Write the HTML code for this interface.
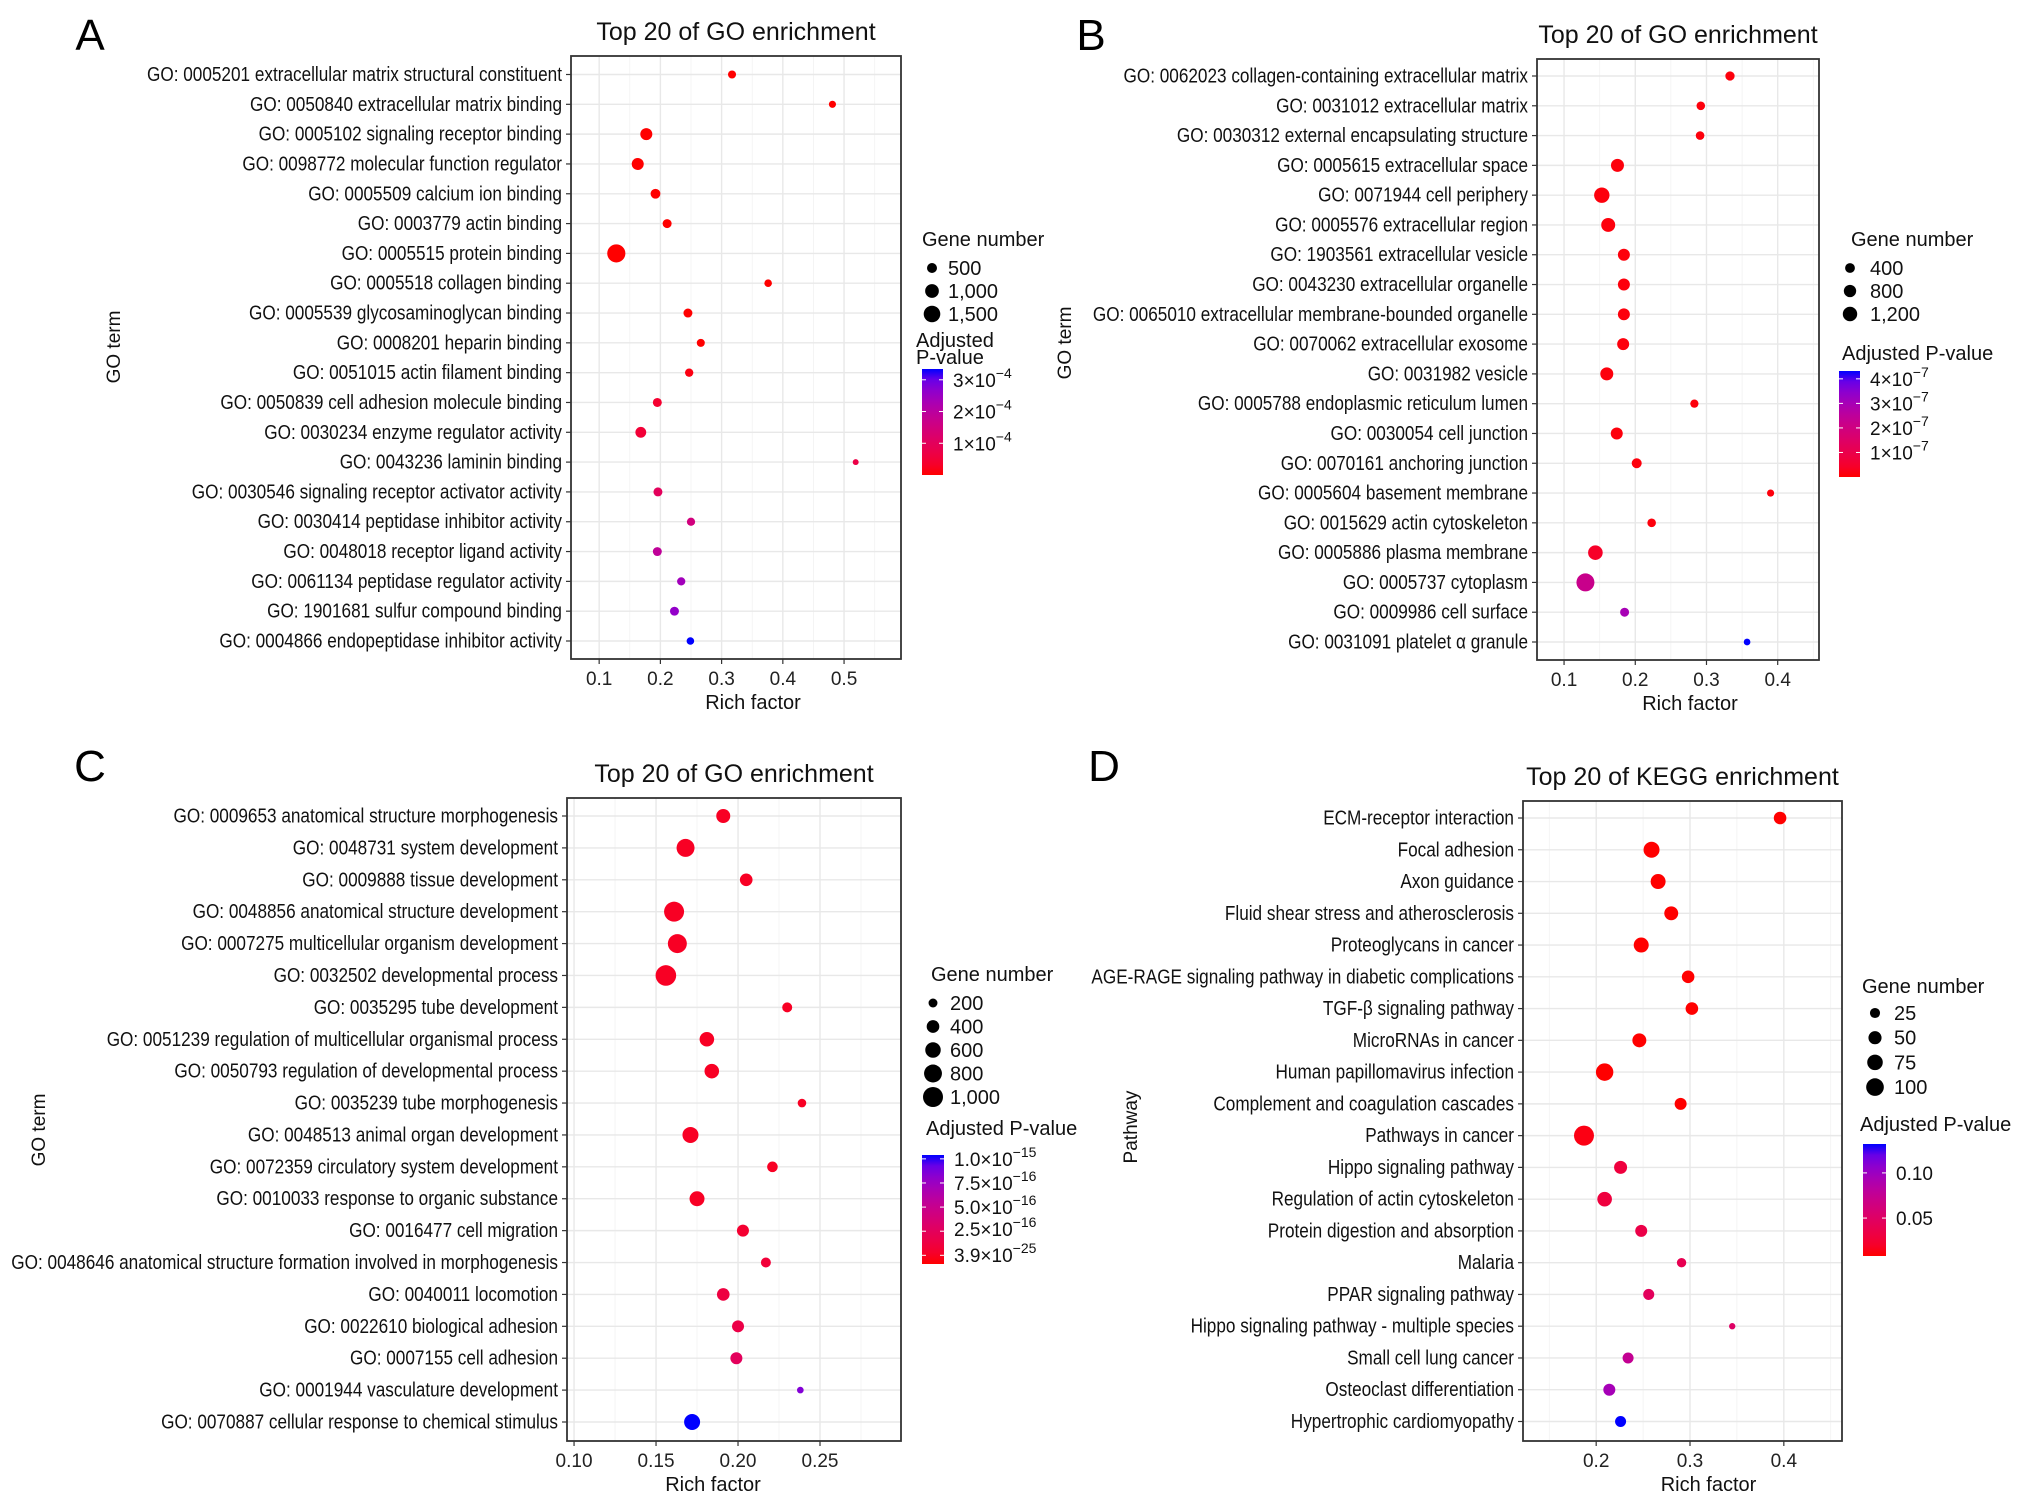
<!DOCTYPE html>
<html><head><meta charset="utf-8"><style>
html,body{margin:0;padding:0;background:#fff}
svg{display:block;font-family:"Liberation Sans",Arial,sans-serif}
</style></head><body>
<svg id="fig" width="2032" height="1505" viewBox="0 0 2032 1505" xmlns="http://www.w3.org/2000/svg"></svg>
<script>
// ---------- DATA ----------
const termsA = ["GO: 0005201 extracellular matrix structural constituent","GO: 0050840 extracellular matrix binding","GO: 0005102 signaling receptor binding","GO: 0098772 molecular function regulator","GO: 0005509 calcium ion binding","GO: 0003779 actin binding","GO: 0005515 protein binding","GO: 0005518 collagen binding","GO: 0005539 glycosaminoglycan binding","GO: 0008201 heparin binding","GO: 0051015 actin filament binding","GO: 0050839 cell adhesion molecule binding","GO: 0030234 enzyme regulator activity","GO: 0043236 laminin binding","GO: 0030546 signaling receptor activator activity","GO: 0030414 peptidase inhibitor activity","GO: 0048018 receptor ligand activity","GO: 0061134 peptidase regulator activity","GO: 1901681 sulfur compound binding","GO: 0004866 endopeptidase inhibitor activity"];
const richA = [0.317,0.481,0.177,0.163,0.192,0.211,0.128,0.376,0.245,0.266,0.247,0.195,0.168,0.519,0.196,0.250,0.195,0.234,0.223,0.249];
const countA = [300,220,750,750,480,390,1800,260,390,300,330,390,600,130,390,320,390,320,390,260];
const padjA = [0,0,0,0,0,0,0,0,0,0,0.1e-4,0.4e-4,0.5e-4,0.7e-4,1.0e-4,1.5e-4,1.9e-4,2.4e-4,2.6e-4,3.34e-4];
const xTicksA = [0.1,0.2,0.3,0.4,0.5];
const sizeLegA = [500,1000,1500];
const sizeLabA = ["500","1,000","1,500"];
const colTickA = [3e-4,2e-4,1e-4];
const colLabA = [["3×10","−4"],["2×10","−4"],["1×10","−4"]];

const termsB = ["GO: 0062023 collagen-containing extracellular matrix","GO: 0031012 extracellular matrix","GO: 0030312 external encapsulating structure","GO: 0005615 extracellular space","GO: 0071944 cell periphery","GO: 0005576 extracellular region","GO: 1903561 extracellular vesicle","GO: 0043230 extracellular organelle","GO: 0065010 extracellular membrane-bounded organelle","GO: 0070062 extracellular exosome","GO: 0031982 vesicle","GO: 0005788 endoplasmic reticulum lumen","GO: 0030054 cell junction","GO: 0070161 anchoring junction","GO: 0005604 basement membrane","GO: 0015629 actin cytoskeleton","GO: 0005886 plasma membrane","GO: 0005737 cytoplasm","GO: 0009986 cell surface","GO: 0031091 platelet α granule"];
const richB = [0.333,0.292,0.291,0.175,0.153,0.162,0.184,0.184,0.184,0.183,0.160,0.283,0.174,0.202,0.390,0.223,0.144,0.130,0.185,0.357];
const countB = [330,240,240,920,1410,1110,740,740,740,740,920,200,740,430,80,240,1240,2030,290,30];
const padjB = [0.08e-7,0.08e-7,0.08e-7,0.08e-7,0.08e-7,0.08e-7,0.08e-7,0.08e-7,0.08e-7,0.08e-7,0.08e-7,0.08e-7,0.08e-7,0.08e-7,0.08e-7,0.08e-7,0.4e-7,2.2e-7,3.0e-7,4.32e-7];
const xTicksB = [0.1,0.2,0.3,0.4];
const sizeLegB = [400,800,1200];
const sizeLabB = ["400","800","1,200"];
const colTickB = [4e-7,3e-7,2e-7,1e-7];
const colLabB = [["4×10","−7"],["3×10","−7"],["2×10","−7"],["1×10","−7"]];

const termsC = ["GO: 0009653 anatomical structure morphogenesis","GO: 0048731 system development","GO: 0009888 tissue development","GO: 0048856 anatomical structure development","GO: 0007275 multicellular organism development","GO: 0032502 developmental process","GO: 0035295 tube development","GO: 0051239 regulation of multicellular organismal process","GO: 0050793 regulation of developmental process","GO: 0035239 tube morphogenesis","GO: 0048513 animal organ development","GO: 0072359 circulatory system development","GO: 0010033 response to organic substance","GO: 0016477 cell migration","GO: 0048646 anatomical structure formation involved in morphogenesis","GO: 0040011 locomotion","GO: 0022610 biological adhesion","GO: 0007155 cell adhesion","GO: 0001944 vasculature development","GO: 0070887 cellular response to chemical stimulus"];
const richC = [0.191,0.168,0.205,0.161,0.163,0.156,0.230,0.181,0.184,0.239,0.171,0.221,0.175,0.203,0.217,0.191,0.200,0.199,0.238,0.172];
const countC = [490,810,400,1000,900,1060,250,530,530,185,640,280,560,360,250,400,360,360,110,640];
const padjC = [0,0,0,0,0,0,0,0,0,0,0,0,0,0.05e-15,0.08e-15,0.12e-15,0.15e-15,0.25e-15,0.85e-15,1.04e-15];
const xTicksC = [0.10,0.15,0.20,0.25];
const sizeLegC = [200,400,600,800,1000];
const sizeLabC = ["200","400","600","800","1,000"];
const colTickC = [1.0e-15,7.5e-16,5.0e-16,2.5e-16,3.9e-25];
const colLabC = [["1.0×10","−15"],["7.5×10","−16"],["5.0×10","−16"],["2.5×10","−16"],["3.9×10","−25"]];

const termsD = ["ECM-receptor interaction","Focal adhesion","Axon guidance","Fluid shear stress and atherosclerosis","Proteoglycans in cancer","AGE-RAGE signaling pathway in diabetic complications","TGF-β signaling pathway","MicroRNAs in cancer","Human papillomavirus infection","Complement and coagulation cascades","Pathways in cancer","Hippo signaling pathway","Regulation of actin cytoskeleton","Protein digestion and absorption","Malaria","PPAR signaling pathway","Hippo signaling pathway - multiple species","Small cell lung cancer","Osteoclast differentiation","Hypertrophic cardiomyopathy"];
const richD = [0.396,0.259,0.266,0.280,0.248,0.298,0.302,0.246,0.209,0.290,0.187,0.226,0.209,0.248,0.291,0.256,0.345,0.234,0.214,0.226];
const countD = [45,80,69,58,69,45,45,58,97,40,131,49,65,40,20,32,3,32,40,32];
const padjD = [0.008,0.008,0.008,0.008,0.008,0.008,0.008,0.008,0.008,0.008,0.012,0.03,0.03,0.035,0.04,0.045,0.05,0.075,0.095,0.132];
const xTicksD = [0.2,0.3,0.4];
const sizeLegD = [25,50,75,100];
const sizeLabD = ["25","50","75","100"];
const colTickD = [0.10,0.05];
const colLabD = [["0.10",""],["0.05",""]];

// ---------- RENDER ----------
const NS = "http://www.w3.org/2000/svg";
const svg = document.getElementById('fig');
function mk(tag, attrs, parent){ const e=document.createElementNS(NS,tag); for(const k in attrs) e.setAttribute(k,attrs[k]); (parent||svg).appendChild(e); return e; }

function s2l(c){c/=255;return c<=0.04045?c/12.92:Math.pow((c+0.055)/1.055,2.4);}
function l2s(c){c=c<=0.0031308?12.92*c:1.055*Math.pow(c,1/2.4)-0.055;return Math.max(0,Math.min(255,Math.round(c*255)));}
function toLab(r,g,b){r=s2l(r);g=s2l(g);b=s2l(b);
 let x=(r*0.4124+g*0.3576+b*0.1805)/0.95047,y=r*0.2126+g*0.7152+b*0.0722,z=(r*0.0193+g*0.1192+b*0.9505)/1.08883;
 const f=t=>t>0.008856?Math.cbrt(t):7.787*t+16/116;x=f(x);y=f(y);z=f(z);return [116*y-16,500*(x-y),200*(y-z)];}
function fromLab(L,a,b){let y=(L+16)/116,x=a/500+y,z=y-b/200;const fi=t=>t*t*t>0.008856?t*t*t:(t-16/116)/7.787;
 x=fi(x)*0.95047;y=fi(y);z=fi(z)*1.08883;
 const r=x*3.2406+y*-1.5372+z*-0.4986,g=x*-0.9689+y*1.8758+z*0.0415,bb=x*0.0557+y*-0.2040+z*1.0570;
 return `rgb(${l2s(r)},${l2s(g)},${l2s(bb)})`;}
const LR=toLab(255,0,0), LB=toLab(0,0,255);
function colorAt(t){t=Math.max(0,Math.min(1,t));return fromLab(LR[0]+(LB[0]-LR[0])*t,LR[1]+(LB[1]-LR[1])*t,LR[2]+(LB[2]-LR[2])*t);}

let labelRatio = null;

function panel(cfg){
  const g = mk('g',{});
  
  
  const {L,R,T,B,y0,y1,d0,d1} = cfg;
  const xs = v => L + (v-d0)/(d1-d0)*(R-L);
  const n = cfg.terms.length;
  const ys = i => y0 + i*(y1-y0)/(n-1);
  const rs = c => Math.sqrt(cfg.c0 + cfg.c1*c);
  const cs = p => colorAt((p-cfg.p0)/(cfg.p1-cfg.p0));

  const lt = mk('text',{x:cfg.lx,y:cfg.ly,'text-anchor':'middle','font-size':44,fill:'#000'},g);
  lt.textContent = cfg.letter;
  
  
  const tt = mk('text',{x:(L+R)/2,y:T-16,'text-anchor':'middle','font-size':25,fill:'#111'},g);
  tt.textContent = cfg.title;
  
  
  mk('rect',{x:L,y:T,width:R-L,height:B-T,fill:'#fff'},g);
  const step = cfg.ticks[1]-cfg.ticks[0];
  for(let v=cfg.ticks[0]-step/2; v<d1; v+=step){ if(v>d0){ const gl=mk('line',{x1:xs(v),x2:xs(v),y1:T,y2:B,stroke:'#f2f2f2','stroke-width':0.8},g);
    
     } }
  cfg.ticks.forEach(v=>{ const gl=mk('line',{x1:xs(v),x2:xs(v),y1:T,y2:B,stroke:'#e8e8e8','stroke-width':1.4},g);
    
     });
  cfg.terms.forEach((t,i)=>{ const gl=mk('line',{x1:L,x2:R,y1:ys(i),y2:ys(i),stroke:'#e8e8e8','stroke-width':1.4},g);
    
     });
  cfg.terms.forEach((t,i)=>{
    const c = mk('circle',{cx:xs(cfg.rich[i]),cy:ys(i),r:rs(cfg.count[i]),fill:cs(cfg.padj[i])},g);
    
    
  });
  const bd = mk('rect',{x:L,y:T,width:R-L,height:B-T,fill:'none',stroke:'#333','stroke-width':1.8},g);
  
  
  cfg.terms.forEach((t,i)=>{
    mk('line',{x1:L-5,x2:L,y1:ys(i),y2:ys(i),stroke:'#333','stroke-width':1.2},g);
    const tx = mk('text',{x:L-9,y:ys(i)+6.5,'text-anchor':'end','font-size':20,fill:'#111'},g);
    tx.textContent = t;
    
    
    const len = tx.getComputedTextLength();
    if(labelRatio===null) labelRatio = 415/len;
    tx.setAttribute('textLength', (len*labelRatio).toFixed(1));
    tx.setAttribute('lengthAdjust','spacingAndGlyphs');
  });
  cfg.ticks.forEach((v,k)=>{
    mk('line',{x1:xs(v),x2:xs(v),y1:B,y2:B+5,stroke:'#333','stroke-width':1.2},g);
    const tx = mk('text',{x:xs(v),y:B+26,'text-anchor':'middle','font-size':19,fill:'#222'},g);
    tx.textContent = cfg.tickLab[k];
    
    
  });
  const xt = mk('text',{x:(L+R)/2+cfg.xtOff,y:B+50,'text-anchor':'middle','font-size':20,fill:'#111'},g);
  xt.textContent = 'Rich factor';
  
  
  const yt = mk('text',{x:0,y:0,'text-anchor':'middle','font-size':19,fill:'#111',transform:`translate(${cfg.ytx},${cfg.yty}) rotate(-90)`},g);
  yt.textContent = cfg.ytitle;
  
  

  const sl = mk('g',{},g);
  
  
  const sh = mk('text',{x:cfg.gnx,y:cfg.gny+7,'font-size':20,fill:'#111'},sl);
  sh.textContent = 'Gene number';
  cfg.sizeLeg.forEach((v,k)=>{
    const yy = cfg.sy0 + k*cfg.sdy;
    const c = mk('circle',{cx:cfg.scx,cy:yy,r:rs(v),fill:'#000'},sl);
    
    
    const tx = mk('text',{x:cfg.slx,y:yy+7,'font-size':20,fill:'#111'},sl);
    tx.textContent = cfg.sizeLab[k];
  });
  const cl = mk('g',{},g);
  
  
  cfg.ctitle.forEach((s,k)=>{ const tx=mk('text',{x:cfg.ctx,y:cfg.cty+7+k*17,'font-size':20,fill:'#111'},cl); tx.textContent=s; });
  const gid = 'grad'+cfg.id;
  const defs = mk('defs',{},cl);
  const lg = mk('linearGradient',{id:gid,x1:0,y1:1,x2:0,y2:0},defs);
  for(let s=0;s<=10;s++){ mk('stop',{offset:s/10,'stop-color':colorAt(s/10)},lg); }
  const cb = mk('rect',{x:cfg.cbx0,y:cfg.cby0,width:cfg.cbx1-cfg.cbx0,height:cfg.cby1-cfg.cby0,fill:`url(#${gid})`},cl);
  
  
  const cy = p => cfg.cby1 - (p-cfg.p0)/(cfg.p1-cfg.p0)*(cfg.cby1-cfg.cby0);
  cfg.colTick.forEach((v,k)=>{
    const yy = cy(v);
    if(yy>cfg.cby0 && yy<cfg.cby1){
      mk('line',{x1:cfg.cbx0,x2:cfg.cbx0+4,y1:yy,y2:yy,stroke:'#fff','stroke-width':1},cl);
      mk('line',{x1:cfg.cbx1-4,x2:cfg.cbx1,y1:yy,y2:yy,stroke:'#fff','stroke-width':1},cl);
    }
    const ly = cfg.colLabY ? cfg.colLabY[k] : yy;
    const tx = mk('text',{x:cfg.cbx1+10,y:ly+7,'font-size':19,fill:'#111'},cl);
    tx.textContent = cfg.colLab[k][0];
    if(cfg.colLab[k][1]){ const sp=mk('tspan',{dy:-9,'font-size':14},tx); sp.textContent=cfg.colLab[k][1]; }
  });
}

panel({id:'a',letter:'A',lx:90,ly:50,title:'Top 20 of GO enrichment',terms:termsA,rich:richA,count:countA,padj:padjA,
  L:571,R:901,T:56,B:659,y0:74.5,y1:641,d0:0.054,d1:0.593,ticks:xTicksA,tickLab:xTicksA.map(v=>v.toFixed(1)),
  c0:3,c1:0.044,p0:0,p1:3.34e-4,ytitle:'GO term',ytx:120,yty:347,xtOff:17,
  gnx:922,gny:239,sizeLeg:sizeLegA,sizeLab:sizeLabA,sy0:268,sdy:23,scx:932,slx:948,
  ctitle:['Adjusted','P-value'],ctx:916,cty:340,cbx0:922,cbx1:943,cby0:369,cby1:475,colTick:colTickA,colLab:colLabA});

panel({id:'b',letter:'B',lx:1091,ly:50,title:'Top 20 of GO enrichment',terms:termsB,rich:richB,count:countB,padj:padjB,
  L:1537,R:1819,T:59,B:660,y0:76,y1:642,d0:0.062,d1:0.458,ticks:xTicksB,tickLab:xTicksB.map(v=>v.toFixed(1)),
  c0:10,c1:0.035,p0:0,p1:4.32e-7,ytitle:'GO term',ytx:1071,yty:343,xtOff:12,
  gnx:1851,gny:239,sizeLeg:sizeLegB,sizeLab:sizeLabB,sy0:268,sdy:23,scx:1850,slx:1870,
  ctitle:['Adjusted P-value'],ctx:1842,cty:353,cbx0:1839,cbx1:1860,cby0:371,cby1:477,colTick:colTickB,colLab:colLabB});

panel({id:'c',letter:'C',lx:90,ly:781,title:'Top 20 of GO enrichment',terms:termsC,rich:richC,count:countC,padj:padjC,
  L:567,R:901,T:798,B:1441,y0:816,y1:1422,d0:0.0957,d1:0.2994,ticks:xTicksC,tickLab:xTicksC.map(v=>v.toFixed(2)),
  c0:0,c1:0.1,p0:-0.09e-15,p1:1.04e-15,ytitle:'GO term',ytx:45,yty:1130,xtOff:-21,
  gnx:931,gny:974,sizeLeg:sizeLegC,sizeLab:sizeLabC,sy0:1003,sdy:23.5,scx:933,slx:950,
  ctitle:['Adjusted P-value'],ctx:926,cty:1128,cbx0:922,cbx1:944,cby0:1155,cby1:1264,colTick:colTickC,colLab:colLabC,
  colLabY:[1159,1183,1207,1229,1255]});

panel({id:'d',letter:'D',lx:1104,ly:781,title:'Top 20 of KEGG enrichment',terms:termsD,rich:richD,count:countD,padj:padjD,
  L:1523,R:1842,T:801,B:1441,y0:818,y1:1421.5,d0:0.122,d1:0.462,ticks:xTicksD,tickLab:xTicksD.map(v=>v.toFixed(1)),
  c0:8,c1:0.7,p0:0.008,p1:0.132,ytitle:'Pathway',ytx:1137,yty:1127,xtOff:26,
  gnx:1862,gny:986,sizeLeg:sizeLegD,sizeLab:sizeLabD,sy0:1013,sdy:24.7,scx:1875,slx:1894,
  ctitle:['Adjusted P-value'],ctx:1860,cty:1124,cbx0:1863,cbx1:1886,cby0:1144,cby1:1256,colTick:colTickD,colLab:colLabD});
</script>
</body></html>
